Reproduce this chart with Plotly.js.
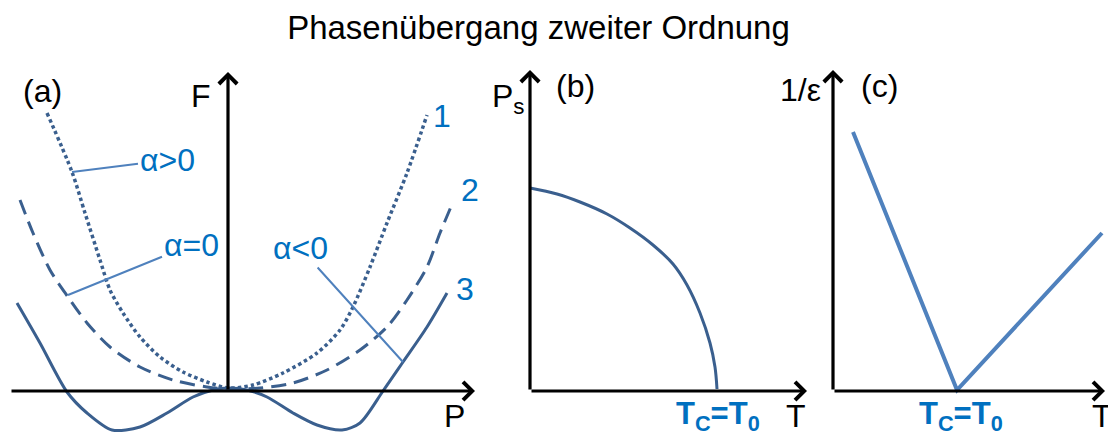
<!DOCTYPE html>
<html>
<head>
<meta charset="utf-8">
<script src="https://cdn.plot.ly/plotly-3.0.1.min.js"></script>
<style>
  html, body { margin: 0; padding: 0; background: #ffffff; }
  #chart { width: 1108px; height: 436px; }
</style>
</head>
<body>
<div id="chart"></div>
<script>
// (a) Landau free energy F(P) for three values of alpha
const curve1P = [-1.81, -1.56, -1.43, -1.28, -1.18, -1.05, -0.88, -0.68, -0.45, -0.21, 0, 0.25, 0.55, 0.89, 1.12, 1.25, 1.42, 1.59, 1.79, 1.99];
const curve1F = [2.78, 2.19, 1.78, 1.31, 1.01, 0.78, 0.54, 0.34, 0.19, 0.09, 0.03, 0.06, 0.18, 0.38, 0.61, 0.84, 1.24, 1.68, 2.18, 2.76];

const curve2P = [-2.08, -1.95, -1.78, -1.60, -1.41, -1.18, -0.88, -0.55, -0.21, 0, 0.32, 0.65, 0.99, 1.32, 1.59, 1.79, 1.99, 2.12, 2.25];
const curve2F = [1.91, 1.58, 1.21, 0.94, 0.68, 0.44, 0.24, 0.11, 0.04, 0.02, 0.03, 0.08, 0.21, 0.41, 0.64, 0.91, 1.24, 1.58, 1.89];

const curve3P = [-2.11, -1.88, -1.61, -1.41, -1.16, -0.88, -0.61, -0.35, -0.15, 0, 0.19, 0.39, 0.65, 0.89, 1.14, 1.32, 1.55, 1.75, 1.99, 2.19];
const curve3F = [0.88, 0.48, -0.01, -0.22, -0.39, -0.36, -0.22, -0.06, 0.01, 0.03, 0.01, -0.06, -0.22, -0.34, -0.39, -0.32, 0.0, 0.29, 0.64, 0.98];

// (b) spontaneous polarisation Ps(T)
const psT = [0, 0.27, 0.50, 0.77, 1.00, 1.23, 1.43, 1.57, 1.70, 1.80, 1.85, 1.87];
const psV = [2.03, 1.97, 1.89, 1.77, 1.63, 1.46, 1.27, 1.06, 0.78, 0.48, 0.24, 0.02];

// (c) inverse permittivity 1/ε(T)
const invEpsT = [0.20, 1.24, 2.69];
const invEpsV = [2.59, 0.01, 1.58];

// curve labels and alpha labels
const curveNumbers = ['1', '2', '3'];
const alphaLabels = ['α>0', 'α=0', 'α<0'];
const panelLabels = ['(a)', '(b)', '(c)'];
const transitionLabel = '<b>T<sub>C</sub>=T<sub>0</sub></b>';

const curveColor = '#3a5f8e';
const accentColor = '#4f81bd';
const textBlue = '#0070c0';
const fontFamily = '"Liberation Sans", Arial, sans-serif';
const labelSize = 32;

const traces = [
  { x: curve1P, y: curve1F, xaxis: 'x', yaxis: 'y', mode: 'lines',
    line: { color: curveColor, width: 3.5, dash: '3.5px,3px', shape: 'spline', smoothing: 0.8 } },
  { x: curve2P, y: curve2F, xaxis: 'x', yaxis: 'y', mode: 'lines',
    line: { color: curveColor, width: 3, dash: '15px,8px', shape: 'spline', smoothing: 0.8 } },
  { x: curve3P, y: curve3F, xaxis: 'x', yaxis: 'y', mode: 'lines',
    line: { color: curveColor, width: 3, shape: 'spline', smoothing: 0.8 } },
  { x: psT, y: psV, xaxis: 'x2', yaxis: 'y2', mode: 'lines',
    line: { color: curveColor, width: 3, shape: 'spline', smoothing: 1 } },
  { x: invEpsT, y: invEpsV, xaxis: 'x3', yaxis: 'y3', mode: 'lines',
    line: { color: accentColor, width: 4 } }
];

// axis arrow helper: tail (x0,y0) -> head (x1,y1)
function axisArrow(xr, yr, x0, y0, x1, y1) {
  return { xref: xr, yref: yr, axref: xr, ayref: yr, x: x1, y: y1, ax: x0, ay: y0,
    text: '', showarrow: true, arrowhead: 4, arrowsize: 1.1, arrowwidth: 3.2,
    arrowcolor: '#000000', standoff: 0, startstandoff: 0 };
}

function label(xr, yr, x, y, text, opts) {
  return Object.assign({ xref: xr, yref: yr, x: x, y: y, text: text, showarrow: false,
    font: { family: fontFamily, size: labelSize, color: '#000000' } }, opts || {});
}

function pointer(x, y, tx, ty, text) {
  return { xref: 'x', yref: 'y', axref: 'x', ayref: 'y', x: x, y: y, ax: tx, ay: ty,
    text: text, showarrow: true, arrowhead: 0, arrowwidth: 2, arrowcolor: accentColor,
    standoff: 0, font: { family: fontFamily, size: labelSize, color: textBlue } };
}

const blueFont = { family: fontFamily, size: labelSize, color: textBlue };
const boldBlueFont = { family: fontFamily, size: 31, color: textBlue };

const annotations = [
  // panel (a) axes
  axisArrow('x', 'y', -2.18, 0, 2.47, 0),
  axisArrow('x', 'y', 0, 0, 0, 3.19),
  // panel (b) axes
  axisArrow('x2', 'y2', 0, 0, 2.77, 0),
  axisArrow('x2', 'y2', 0, 0, 0, 3.21),
  // panel (c) axes
  axisArrow('x3', 'y3', 0, 0, 2.72, 0),
  axisArrow('x3', 'y3', 0, 0, 0, 3.21),

  label('x', 'y', -1.86, 3.0, panelLabels[0]),
  label('x', 'y', -0.27, 2.95, 'F'),
  label('x', 'y', 2.26, -0.25, 'P'),
  label('x', 'y', 2.14, 2.75, curveNumbers[0], { font: blueFont }),
  label('x', 'y', 2.42, 2.01, curveNumbers[1], { font: blueFont }),
  label('x', 'y', 2.37, 1.02, curveNumbers[2], { font: blueFont }),
  pointer(-1.56, 2.19, -0.61, 2.31, alphaLabels[0]),
  pointer(-1.60, 0.96, -0.37, 1.46, alphaLabels[1]),
  pointer(1.75, 0.29, 0.72, 1.43, alphaLabels[2]),

  label('x2', 'y2', -0.03, 2.93, 'P<sub>s</sub>', { xanchor: 'right' }),
  label('x2', 'y2', 0.45, 3.05, panelLabels[1]),
  label('x2', 'y2', 1.88, -0.245, transitionLabel, { font: boldBlueFont }),
  label('x2', 'y2', 2.66, -0.25, 'T'),

  label('x3', 'y3', -0.10, 3.01, '1/ε', { xanchor: 'right' }),
  label('x3', 'y3', 0.46, 3.05, panelLabels[2]),
  label('x3', 'y3', 1.28, -0.245, transitionLabel, { font: boldBlueFont }),
  label('x3', 'y3', 2.57, -0.25, 'T', { xanchor: 'left' })
];

const hidden = { visible: false, fixedrange: true };
const layout = {
  width: 1108, height: 436,
  margin: { l: 0, r: 0, t: 0, b: 0 },
  paper_bgcolor: '#ffffff', plot_bgcolor: 'rgba(0,0,0,0)',
  showlegend: false,
  title: { text: 'Phasenübergang zweiter Ordnung', x: 0.486, xanchor: 'center',
    y: 0.937, yanchor: 'middle', font: { family: fontFamily, size: 33, color: '#000000' } },
  xaxis: Object.assign({ domain: [0, 500 / 1108], range: [-2.28, 2.72], anchor: 'y' }, hidden),
  yaxis: Object.assign({ domain: [0, 1], range: [-0.45, 3.91], anchor: 'x' }, hidden),
  xaxis2: Object.assign({ domain: [500 / 1108, 830 / 1108], range: [-0.30, 3.00], anchor: 'y2' }, hidden),
  yaxis2: Object.assign({ domain: [0, 1], range: [-0.45, 3.91], anchor: 'x2' }, hidden),
  xaxis3: Object.assign({ domain: [810 / 1108, 1], range: [-0.23, 2.75], anchor: 'y3' }, hidden),
  yaxis3: Object.assign({ domain: [0, 1], range: [-0.45, 3.91], anchor: 'x3' }, hidden),
  annotations: annotations
};

Plotly.newPlot('chart', traces, layout, { staticPlot: true, displayModeBar: false });
</script>
</body>
</html>
